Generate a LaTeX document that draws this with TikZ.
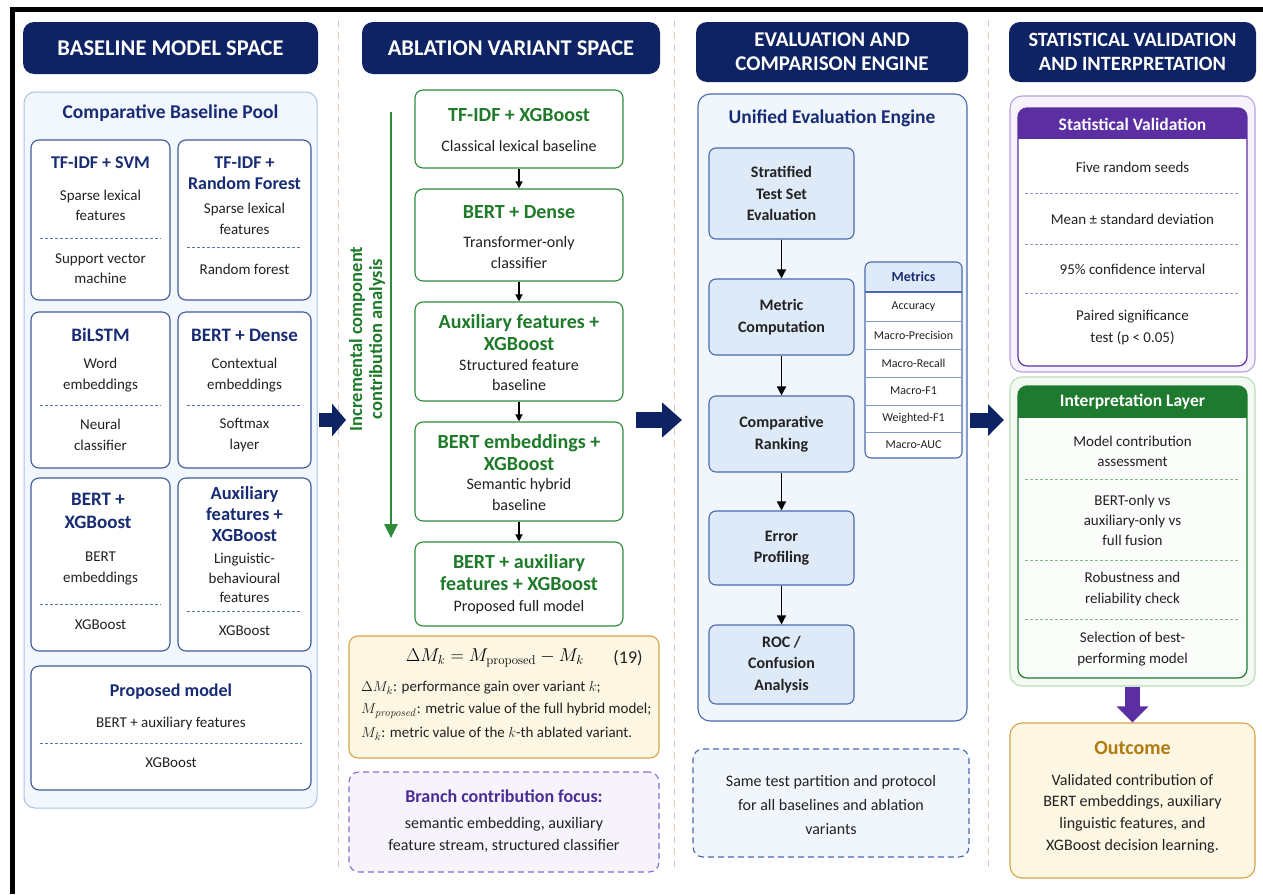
\documentclass[tikz,border=0pt]{standalone}
\usepackage[no-math]{fontspec}
\setmainfont{Carlito}
\usetikzlibrary{fit,arrows.meta}

\definecolor{navy}{HTML}{0E2363}
\definecolor{navytxt}{HTML}{182C74}
\definecolor{cardline}{HTML}{3F5A9C}
\definecolor{poolline}{HTML}{A9C3E6}
\definecolor{poolfill}{HTML}{F2F6FD}
\definecolor{engline}{HTML}{4A69AD}
\definecolor{engfill}{HTML}{F1F6FD}
\definecolor{stepfill}{HTML}{DEEAF8}
\definecolor{grn}{HTML}{2F8A3B}
\definecolor{grntxt}{HTML}{1F7A2A}
\definecolor{grnhead}{HTML}{1E7A2E}
\definecolor{grnlight}{HTML}{B9DDB9}
\definecolor{grnfill}{HTML}{F4FAF3}
\definecolor{gold}{HTML}{D6A446}
\definecolor{goldfill}{HTML}{FDF6E3}
\definecolor{goldtxt}{HTML}{B07A0E}
\definecolor{purp}{HTML}{5B2EA1}
\definecolor{purptxt}{HTML}{4A2C96}
\definecolor{purpline}{HTML}{8B6CCF}
\definecolor{purplight}{HTML}{B5A3DE}
\definecolor{purpfill}{HTML}{F7F3FC}
\definecolor{divline}{HTML}{E3C6B9}
\definecolor{ink}{HTML}{222222}

\newcommand\fz[2]{\fontsize{#1}{#2}\selectfont}

\tikzset{
  hdr/.style={fill=navy, rounded corners=11pt, inner sep=0pt},
  hdrtxt/.style={text=white, font=\bfseries\fz{22.5}{24}, align=center, inner sep=0pt},
  hdrtxtb/.style={hdrtxt, font=\bfseries\fz{21}{24}},
  pool/.style={draw=poolline, fill=poolfill, rounded corners=11pt, line width=1pt, inner sep=0pt},
  card/.style={draw=cardline, fill=white, rounded corners=8pt, line width=1.1pt, inner sep=0pt},
  cttl/.style={text=navytxt, font=\bfseries\fz{18}{20.5}, align=center, inner sep=0pt},
  cbody/.style={text=ink, font=\fz{15}{20.5}, align=center, inner sep=0pt},
  csep/.style={draw=cardline!85, dash pattern=on 3pt off 2pt, line width=0.7pt},
  abl/.style={draw=grn, fill=white, rounded corners=8pt, line width=1.1pt, inner sep=0pt},
  attl/.style={text=grntxt, font=\bfseries\fz{20}{22}, align=center, inner sep=0pt},
  abody/.style={text=ink, font=\fz{16}{20.5}, align=center, inner sep=0pt},
  flow/.style={draw=black, line width=1.3pt, -{Triangle[length=7pt,width=7pt]}},
  eng/.style={draw=engline, fill=engfill, rounded corners=12pt, line width=1.1pt, inner sep=0pt},
  stepbox/.style={draw=engline, fill=stepfill, rounded corners=7pt, line width=1.1pt, inner sep=0pt},
  steptxt/.style={text=ink, font=\bfseries\fz{16}{21.5}, align=center, inner sep=0pt},
  mtxt/.style={text=ink, font=\fz{12}{14}, inner sep=0pt},
  ptxt/.style={text=ink, font=\fz{15}{20}, align=center, inner sep=0pt},
  psep/.style={dash pattern=on 3pt off 2pt, line width=0.7pt},
  divider/.style={draw=divline, dash pattern=on 7pt off 5pt, line width=1pt},
}

\begin{document}
\begin{tikzpicture}[x=1pt,y=-1pt]
\useasboundingbox (0,0) rectangle (1263,894);
\fill[white] (0,0) rectangle (1263,894);
% frame bars
\fill[black] (10,7) rectangle (1263,12);
\fill[black] (10,7) rectangle (15,894);

% column dividers
\draw[divider] (338,20) -- (338,872);
\draw[divider] (674,20) -- (674,872);
\draw[divider] (988,20) -- (988,872);

%% ---------------- Column 1: baseline model space ----------------
\node[hdr, fit={(23,22) (318,74)}] (h1) {};
\node[hdrtxt] (h1t) at (h1.center) {BASELINE MODEL SPACE};

\node[pool, fit={(24,92) (317,808)}] (pool) {};
\node[text=navytxt, font=\bfseries\fz{19.5}{21}, inner sep=0pt] (poolt) at (170.5,113) {Comparative Baseline Pool};

% TF-IDF + SVM
\node[card, fit={(31,140) (170,300)}] (cA) {};
\node[cttl] (cAt) at (100.5,163) {TF-IDF + SVM};
\node[cbody] (cAa) at (100.5,205.5) {Sparse lexical\\features};
\draw[csep] (40,238) -- (161,238);
\node[cbody] (cAb) at (100.5,268.5) {Support vector\\machine};

% TF-IDF + Random Forest
\node[card, fit={(178,140) (311,300)}] (cB) {};
\node[cttl] (cBt) at (244.5,173) {TF-IDF +\\Random Forest};
\node[cbody] (cBa) at (244.5,219) {Sparse lexical\\features};
\draw[csep] (187,247) -- (302,247);
\node[cbody] (cBb) at (244.5,269) {Random forest};

% BiLSTM
\node[card, fit={(31,312) (170,468)}] (cC) {};
\node[cttl, font=\bfseries\fz{19}{21}] (cCt) at (100.5,335) {BiLSTM};
\node[cbody] (cCa) at (100.5,375) {Word\\embeddings};
\draw[csep] (40,405) -- (161,405);
\node[cbody] (cCb) at (100.5,435) {Neural\\classifier};

% BERT + Dense
\node[card, fit={(178,312) (311,468)}] (cD) {};
\node[cttl, font=\bfseries\fz{19}{21}] (cDt) at (244.5,335) {BERT + Dense};
\node[cbody] (cDa) at (244.5,375) {Contextual\\embeddings};
\draw[csep] (187,405) -- (302,405);
\node[cbody] (cDb) at (244.5,435) {Softmax\\layer};

% BERT + XGBoost
\node[card, fit={(31,478) (170,651)}] (cE) {};
\node[cttl, font=\bfseries\fz{19}{23}] (cEt) at (98,510.5) {BERT +\\XGBoost};
\node[cbody] (cEa) at (100.5,568.5) {BERT\\embeddings};
\draw[csep] (40,604) -- (161,604);
\node[cbody] (cEb) at (100.5,625) {XGBoost};

% Auxiliary features + XGBoost
\node[card, fit={(178,478) (311,651)}] (cF) {};
\node[cttl, font=\bfseries\fz{18.5}{21}] (cFt) at (244.5,514) {Auxiliary\\features +\\XGBoost};
\node[cbody, font=\fz{15}{19.5}] (cFa) at (244.5,578) {Linguistic-\\behavioural\\features};
\draw[csep] (187,611) -- (302,611);
\node[cbody] (cFb) at (244.5,631) {XGBoost};

% Proposed model
\node[card, fit={(31,666) (311,790)}] (cP) {};
\node[cttl] (cPt) at (171,692) {Proposed model};
\node[cbody] (cPa) at (171,723) {BERT + auxiliary features};
\draw[csep] (40,743) -- (302,743);
\node[cbody] (cPb) at (171,763) {XGBoost};

%% ---------------- Column 2: ablation variant space ----------------
\node[hdr, fit={(362,22) (660,74)}] (h2) {};
\node[hdrtxt] (h2t) at (h2.center) {ABLATION VARIANT SPACE};

\coordinate (gtop) at (391,112);
\coordinate (gbot) at (391,538);
\draw[grn, line width=2.6pt, -{Triangle[length=14pt,width=13pt]}] (gtop) -- (gbot);
\node[rotate=90, text=grntxt, font=\bfseries\fz{18.5}{20}, align=center, inner sep=0pt] (glab) at (367,339)
  {Incremental component\\contribution analysis};

\node[abl, fit={(415,90) (623,168)}] (ab1) {};
\node[attl] (ab1t) at (519,115) {TF-IDF + XGBoost};
\node[abody] (ab1b) at (519,146) {Classical lexical baseline};

\node[abl, fit={(415,189) (623,281)}] (ab2) {};
\node[attl] (ab2t) at (519,212) {BERT + Dense};
\node[abody] (ab2b) at (519,252.5) {Transformer-only\\classifier};

\node[abl, fit={(415,302) (623,401)}] (ab3) {};
\node[attl] (ab3t) at (519,333) {Auxiliary features +\\XGBoost};
\node[abody] (ab3b) at (519,375) {Structured feature\\baseline};

\node[abl, fit={(415,422) (623,521)}] (ab4) {};
\node[attl] (ab4t) at (519,453) {BERT embeddings +\\XGBoost};
\node[abody] (ab4b) at (519,494.5) {Semantic hybrid\\baseline};

\node[abl, fit={(415,542) (623,626)}] (ab5) {};
\node[attl] (ab5t) at (519,573) {BERT + auxiliary\\features + XGBoost};
\node[abody] (ab5b) at (519,607) {Proposed full model};

\draw[flow] (ab1) -- (ab2);
\draw[flow] (ab2) -- (ab3);
\draw[flow] (ab3) -- (ab4);
\draw[flow] (ab4) -- (ab5);

% ablation gain formula
\node[draw=gold, fill=goldfill, rounded corners=9pt, line width=1.1pt, inner sep=0pt, fit={(349,636) (659,758)}] (fbox) {};
\node[inner sep=0pt, font=\fz{17.28}{20}] (feq) at (495,658) {\scalebox{1.07}{$\Delta M_k = M_{\mathrm{proposed}} - M_k$}};
\node[inner sep=0pt, font=\fz{18}{20}, text=ink] (fnum) at (628,658) {(19)};
\node[anchor=west, inner sep=0pt, font=\fz{15}{18}, text=ink] (fl1) at (361,688) {$\Delta M_k$: performance gain over variant $k$;};
\node[anchor=west, inner sep=0pt, font=\fz{15}{18}, text=ink] (fl2) at (361,711) {$M_{\mathit{proposed}}$: metric value of the full hybrid model;};
\node[anchor=west, inner sep=0pt, font=\fz{15}{18}, text=ink] (fl3) at (361,734) {$M_k$: metric value of the $k$-th ablated variant.};

% branch focus
\node[draw=purpline, fill=purpfill, dash pattern=on 6pt off 4pt, rounded corners=10pt, line width=1.1pt, inner sep=0pt, fit={(349,772) (659,872)}] (bbox) {};
\node[text=purptxt, font=\bfseries\fz{18}{20}, inner sep=0pt] (bttl) at (504,796) {Branch contribution focus:};
\node[abody, font=\fz{16}{22}] (bbody) at (504,835) {semantic embedding, auxiliary\\feature stream, structured classifier};

%% ---------------- Column 3: evaluation engine ----------------
\node[hdr, fit={(696,22) (968,82)}] (h3) {};
\node[hdrtxtb] (h3t) at (h3.center) {EVALUATION AND\\COMPARISON ENGINE};

\node[eng, fit={(698,94) (967,721)}] (eng) {};
\node[text=navytxt, font=\bfseries\fz{19.5}{21}, inner sep=0pt] (engt) at (832,118) {Unified Evaluation Engine};

\node[stepbox, fit={(709,148) (854,239)}] (s1) {};
\node[steptxt] (s1t) at (s1.center) {Stratified\\Test Set\\Evaluation};
\node[stepbox, fit={(709,279) (854,355)}] (s2) {};
\node[steptxt] (s2t) at (s2.center) {Metric\\Computation};
\node[stepbox, fit={(709,396) (854,472)}] (s3) {};
\node[steptxt] (s3t) at (s3.center) {Comparative\\Ranking};
\node[stepbox, fit={(709,511) (854,585)}] (s4) {};
\node[steptxt] (s4t) at (s4.center) {Error\\Profiling};
\node[stepbox, fit={(709,625) (854,704)}] (s5) {};
\node[steptxt] (s5t) at (s5.center) {ROC /\\Confusion\\Analysis};

\draw[flow, line width=1.5pt, -{Triangle[length=9pt,width=9pt]}] (s1) -- (s2);
\draw[flow, line width=1.5pt, -{Triangle[length=9pt,width=9pt]}] (s2) -- (s3);
\draw[flow, line width=1.5pt, -{Triangle[length=9pt,width=9pt]}] (s3) -- (s4);
\draw[flow, line width=1.5pt, -{Triangle[length=9pt,width=9pt]}] (s4) -- (s5);

% metrics table
\node[fill=white, rounded corners=6pt, inner sep=0pt, fit={(865,262) (962,458)}] (mt) {};
\begin{scope}
  \clip[rounded corners=6pt] (865,262) rectangle (962,458);
  \fill[stepfill] (865,262) rectangle (962,292);
\end{scope}
\draw[engline, line width=1.1pt, rounded corners=6pt] (865,262) rectangle (962,458);
\draw[engline, line width=1.3pt] (865,292) -- (962,292);
\foreach \yy in {321,349,377,405,432} \draw[engline!70, line width=0.7pt] (865,\yy) -- (962,\yy);
\node[text=navytxt, font=\bfseries\fz{14}{16}, inner sep=0pt] (mh) at (913.5,277) {Metrics};
\node[mtxt] (m1) at (913.5,306.5) {Accuracy};
\node[mtxt] (m2) at (913.5,335) {Macro-Precision};
\node[mtxt] (m3) at (913.5,363) {Macro-Recall};
\node[mtxt] (m4) at (913.5,391) {Macro-F1};
\node[mtxt] (m5) at (913.5,418.5) {Weighted-F1};
\node[mtxt] (m6) at (913.5,445) {Macro-AUC};

% protocol note
\node[draw=engline, fill=engfill, dash pattern=on 6pt off 4pt, rounded corners=10pt, line width=1.1pt, inner sep=0pt, fit={(693,749) (969,857)}] (note) {};
\node[abody, font=\fz{16}{24}] (notet) at (831,805) {Same test partition and protocol\\for all baselines and ablation\\variants};

%% ---------------- Column 4: statistical validation ----------------
\node[hdr, fit={(1009,22) (1256,82)}] (h4) {};
\node[hdrtxtb, font=\bfseries\fz{20.3}{24}] (h4t) at (h4.center) {STATISTICAL VALIDATION\\AND INTERPRETATION};

% statistical validation panel
\node[draw=purplight, fill=purpfill, rounded corners=12pt, line width=1.1pt, inner sep=0pt, fit={(1010,96) (1255,372)}] (sout) {};
\node[fill=white, rounded corners=9pt, inner sep=0pt, fit={(1018,108) (1247,366)}] (sin) {};
\begin{scope}
  \clip[rounded corners=9pt] (1018,108) rectangle (1247,366);
  \fill[purp] (1018,108) rectangle (1247,139);
\end{scope}
\draw[purp, line width=1.2pt, rounded corners=9pt] (1018,108) rectangle (1247,366);
\node[text=white, font=\bfseries\fz{17.5}{19}, inner sep=0pt] (st) at (1132.5,124) {Statistical Validation};
\node[ptxt] (st1) at (1132.5,167) {Five random seeds};
\draw[psep, purpline!80] (1025,193) -- (1240,193);
\node[ptxt] (st2) at (1132.5,219) {Mean ± standard deviation};
\draw[psep, purpline!80] (1025,244) -- (1240,244);
\node[ptxt] (st3) at (1132.5,269) {95\% confidence interval};
\draw[psep, purpline!80] (1025,293) -- (1240,293);
\node[ptxt, font=\fz{15}{22}] (st4) at (1132.5,327) {Paired significance\\test (p < 0.05)};

% interpretation panel
\node[draw=grnlight, fill=grnfill, rounded corners=12pt, line width=1.1pt, inner sep=0pt, fit={(1010,377) (1255,686)}] (iout) {};
\node[fill=grnfill!40, rounded corners=9pt, inner sep=0pt, fit={(1018,386) (1247,678)}] (iin) {};
\begin{scope}
  \clip[rounded corners=9pt] (1018,386) rectangle (1247,678);
  \fill[grnhead] (1018,386) rectangle (1247,418);
\end{scope}
\draw[grnhead, line width=1.2pt, rounded corners=9pt] (1018,386) rectangle (1247,678);
\node[text=white, font=\bfseries\fz{17.5}{19}, inner sep=0pt] (it) at (1132.5,402) {Interpretation Layer};
\node[ptxt] (it1) at (1132.5,451) {Model contribution\\assessment};
\draw[psep, grn!60] (1025,479) -- (1240,479);
\node[ptxt] (it2) at (1132.5,520) {BERT-only vs\\auxiliary-only vs\\full fusion};
\draw[psep, grn!60] (1025,560) -- (1240,560);
\node[ptxt, font=\fz{15}{21}] (it3) at (1132.5,589) {Robustness and\\reliability check};
\draw[psep, grn!60] (1025,619) -- (1240,619);
\node[ptxt, font=\fz{15}{21}] (it4) at (1132.5,649.5) {Selection of best-\\performing model};

% outcome
\node[draw=gold, fill=goldfill, rounded corners=12pt, line width=1.1pt, inner sep=0pt, fit={(1010,723) (1255,878)}] (oc) {};
\node[text=goldtxt, font=\bfseries\fz{20}{22}, inner sep=0pt] (oct) at (1132.5,748) {Outcome};
\node[abody, font=\fz{16}{21.7}] (ocb) at (1132.5,813.5) {Validated contribution of\\BERT embeddings, auxiliary\\linguistic features, and\\XGBoost decision learning.};

\draw[purp, line width=15pt, -{Triangle[length=16pt,width=31pt]}] (iout.south) -- (oc.north);

%% ---------------- block arrows between columns ----------------
\coordinate (a1s) at (319,420);
\coordinate (a1e) at (346,420);
\coordinate (a2s) at (636,420);
\coordinate (a2e) at (682,420);
\coordinate (a3s) at (970,420);
\coordinate (a3e) at (1004,420);
\draw[navy, line width=14pt, -{Triangle[length=14pt,width=32pt]}] (a1s) -- (a1e);
\draw[navy, line width=16pt, -{Triangle[length=20pt,width=34pt]}] (a2s) -- (a2e);
\draw[navy, line width=15pt, -{Triangle[length=16pt,width=31pt]}] (a3s) -- (a3e);
\end{tikzpicture}
\end{document}
